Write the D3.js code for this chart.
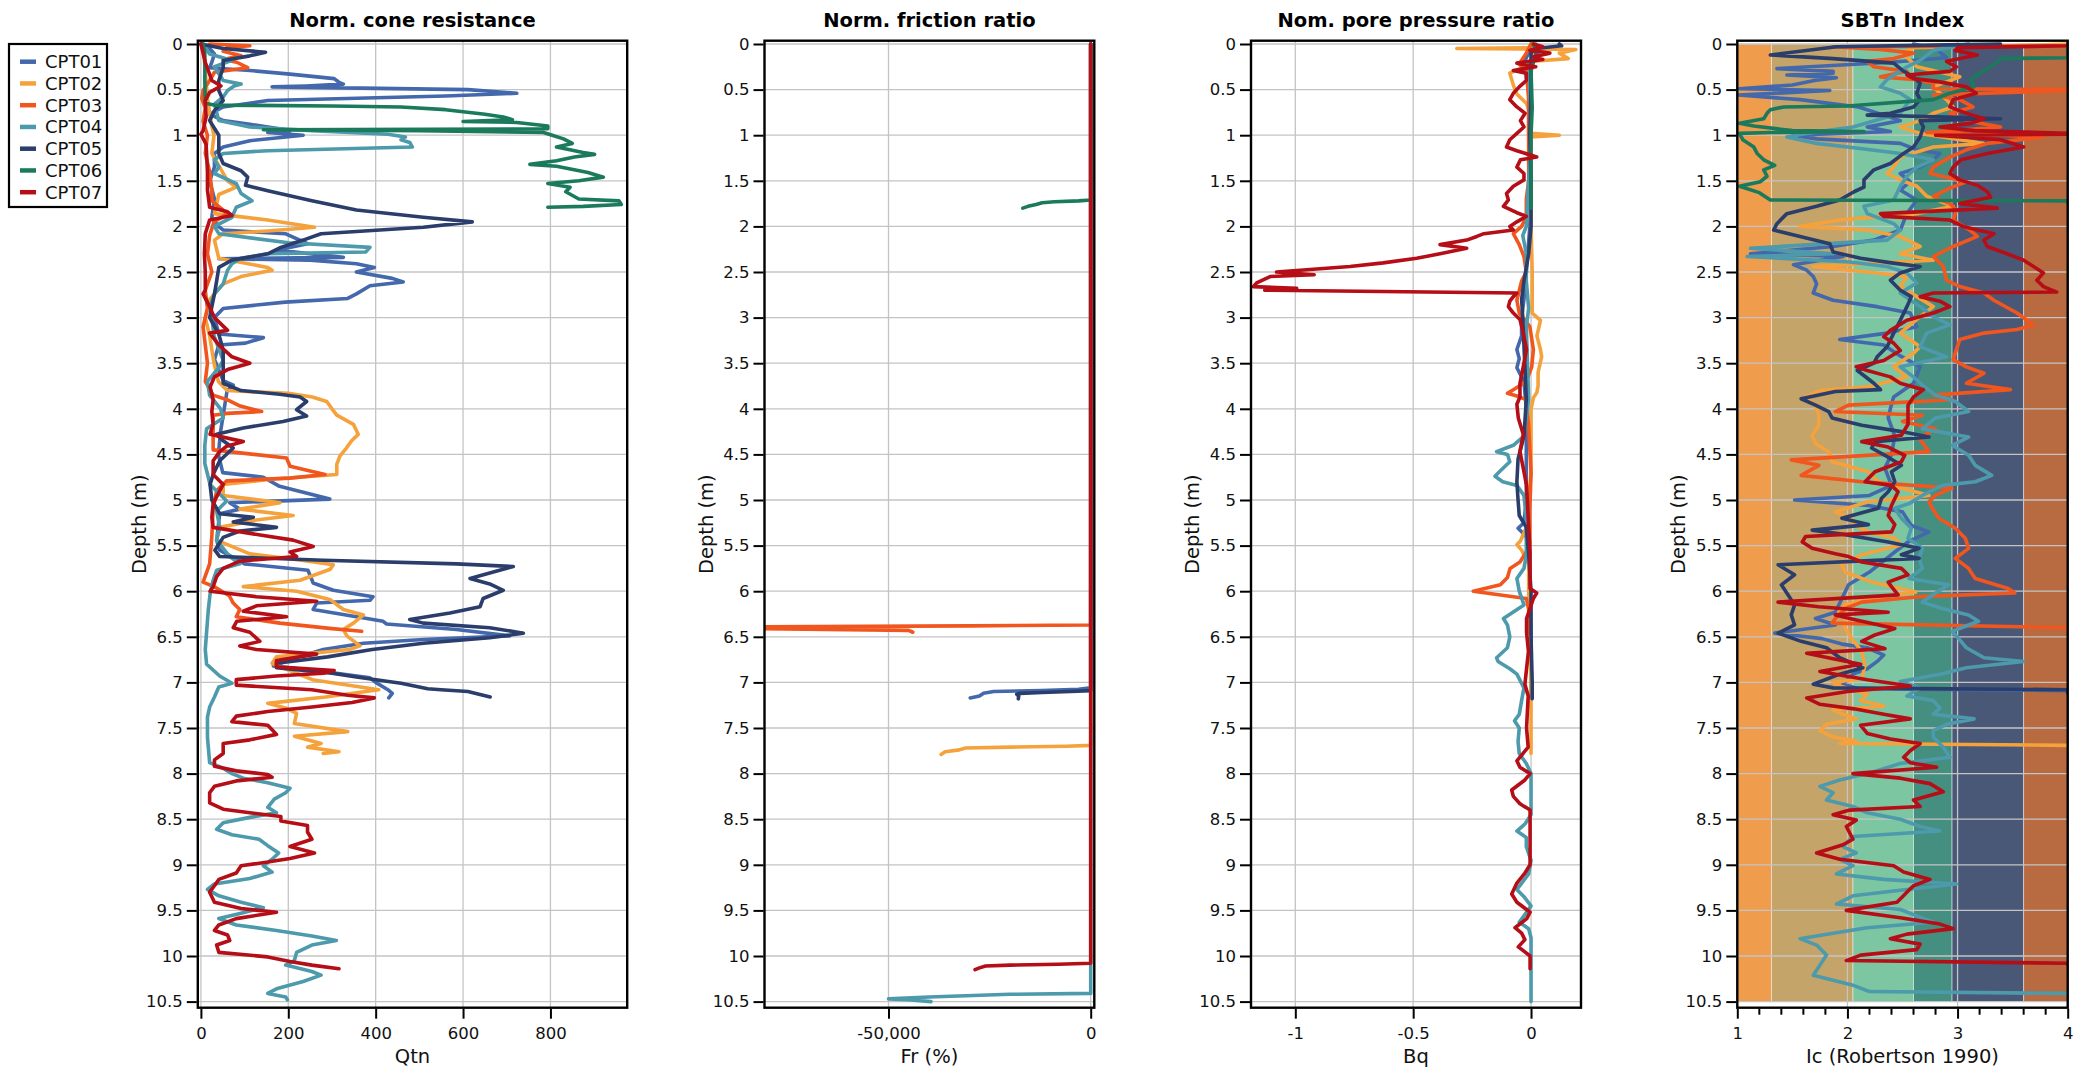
<!DOCTYPE html>
<html>
<head>
<meta charset="utf-8">
<script src="https://cdn.jsdelivr.net/npm/d3@7"></script>
<style>
  body { margin: 0; background: #fff; }
  svg { display: block; font-family: "DejaVu Sans", Verdana, sans-serif; }
</style>
</head>
<body>
<svg id="chart" width="2089" height="1073"></svg>
<script>
// ---- soundings ----
const soundings = ["CPT01", "CPT02", "CPT03", "CPT04", "CPT05", "CPT06", "CPT07"];
const colors = ["#4468ac", "#f5a23c", "#f0561e", "#4c9aac", "#2a3d6b", "#1b7a5c", "#b50e17"];

// ---- depth tick labels ----
const depthTicks = d3.range(0, 10.51, 0.5);

// ---- normalised cone resistance Qtn: [depth m, Qtn] ----
const qtn01 = [[0,0],[0.05,20],[0.11,31],[0.2,25],[0.26,20],[0.29,112],[0.33,204],[0.38,305],[0.42,316],[0.44,326],[0.46,240],[0.47,163],[0.5,611],[0.54,723],[0.57,560],[0.62,153],[0.69,51],[0.77,20],[0.84,51],[0.88,112],[0.95,204],[0.97,153],[1.0,234],[1.06,112],[1.13,51],[1.2,31],[1.35,31],[1.5,20],[1.7,31],[1.9,25],[2.0,40],[2.04,51],[2.08,193],[2.19,244],[2.26,173],[2.34,326],[2.355,41],[2.37,250],[2.41,356],[2.45,397],[2.5,356],[2.57,438],[2.61,463],[2.65,387],[2.74,356],[2.79,336],[2.83,193],[2.9,51],[3.0,31],[3.18,41],[3.22,143],[3.28,102],[3.3,41],[3.46,31],[3.69,51],[3.74,74],[3.8,60],[4.1,50],[4.25,45],[4.5,40],[4.7,50],[4.75,143],[4.85,180],[4.99,295],[5.03,66],[5.1,89],[5.15,43],[5.44,36],[5.55,43],[5.7,100],[5.77,245],[5.91,257],[5.99,303],[6.06,394],[6.1,387],[6.13,265],[6.2,257],[6.28,356],[6.33,417],[6.36,425],[6.42,585],[6.49,707],[6.53,509],[6.57,372],[6.64,280],[6.75,204],[6.82,166],[6.88,280],[6.95,387],[7.0,400],[7.08,428],[7.12,438],[7.17,430]];
const qtn02 = [[0,5],[0.3,10],[0.6,15],[0.9,25],[1.0,30],[1.2,25],[1.5,61],[1.57,81],[1.65,41],[1.86,31],[1.93,153],[2.01,260],[2.05,153],[2.08,51],[2.15,31],[2.35,41],[2.45,153],[2.48,163],[2.55,92],[2.63,51],[2.8,20],[3.0,10],[3.2,20],[3.5,30],[3.7,40],[3.8,60],[3.83,200],[3.87,255],[3.92,288],[4.0,300],[4.07,311],[4.17,349],[4.28,360],[4.35,345],[4.43,333],[4.52,318],[4.61,311],[4.72,311],[4.77,166],[4.83,51],[4.95,51],[5.03,181],[5.1,89],[5.17,211],[5.22,127],[5.3,43],[5.44,36],[5.59,112],[5.66,230],[5.71,303],[5.76,296],[5.88,227],[5.95,97],[6.0,219],[6.09,295],[6.2,326],[6.26,372],[6.35,349],[6.42,326],[6.49,334],[6.6,364],[6.64,340],[6.72,173],[6.79,163],[6.9,219],[6.97,255],[7.08,407],[7.16,285],[7.23,153],[7.28,194],[7.34,219],[7.45,214],[7.54,336],[7.59,214],[7.67,275],[7.71,244],[7.76,316],[7.78,280]];
const qtn03 = [[0,20],[0.02,112],[0.04,60],[0.08,51],[0.13,92],[0.17,51],[0.2,82],[0.26,107],[0.31,31],[0.4,20],[0.51,5],[0.6,2],[0.7,10],[0.85,5],[1.0,15],[1.2,10],[1.4,20],[1.6,25],[1.72,25],[1.86,61],[1.95,30],[2.1,20],[2.3,15],[2.5,25],[2.7,10],[2.9,15],[3.1,5],[3.3,10],[3.5,15],[3.7,10],[3.85,28],[3.9,60],[3.97,90],[4.03,139],[4.05,60],[4.07,28],[4.2,28],[4.45,28],[4.54,196],[4.63,204],[4.72,284],[4.76,204],[4.79,59],[4.9,36],[5.1,28],[5.4,25],[5.7,20],[5.9,5],[5.95,30],[6.05,65],[6.13,74],[6.2,89],[6.28,81],[6.35,181],[6.41,300],[6.44,368]];
const qtn04 = [[0,5],[0.11,20],[0.15,50],[0.18,71],[0.25,31],[0.4,51],[0.44,92],[0.46,76],[0.51,61],[0.58,51],[0.66,31],[0.84,41],[0.91,112],[0.95,254],[0.99,428],[1.02,468],[1.05,458],[1.08,478],[1.13,484],[1.17,153],[1.2,51],[1.27,31],[1.35,41],[1.42,31],[1.53,81],[1.64,92],[1.72,117],[1.79,81],[1.9,71],[2.0,31],[2.08,41],[2.18,200],[2.23,387],[2.28,377],[2.3,153],[2.35,92],[2.41,71],[2.48,61],[2.63,51],[2.74,31],[2.88,20],[3.0,25],[3.2,30],[3.47,51],[3.55,41],[3.7,15],[3.85,20],[4.0,45],[4.1,51],[4.22,13],[4.4,9],[4.6,9],[4.83,21],[5.01,59],[5.12,36],[5.3,43],[5.44,36],[5.62,66],[5.7,89],[5.77,36],[5.88,28],[6.03,21],[6.2,17],[6.45,13],[6.64,10],[6.8,13],[6.93,43],[7.01,71],[7.05,41],[7.16,31],[7.27,20],[7.38,15],[7.6,15],[7.88,20],[7.94,51],[8.0,71],[8.05,97],[8.1,153],[8.16,204],[8.21,194],[8.28,168],[8.37,153],[8.43,173],[8.48,112],[8.54,51],[8.61,36],[8.67,71],[8.72,133],[8.79,153],[8.87,178],[8.94,163],[9.01,143],[9.08,163],[9.15,112],[9.21,31],[9.27,15],[9.34,41],[9.41,92],[9.47,143],[9.53,92],[9.59,41],[9.66,81],[9.72,173],[9.78,254],[9.83,310],[9.88,254],[9.96,219],[10.05,214],[10.1,194],[10.17,254],[10.21,275],[10.28,234],[10.36,173],[10.41,153],[10.45,194],[10.48,198]];
const qtn05 = [[0,0],[0.05,51],[0.09,148],[0.13,112],[0.18,51],[0.26,51],[0.4,41],[0.51,41],[0.62,51],[0.73,31],[0.84,20],[1.0,41],[1.2,41],[1.31,51],[1.39,92],[1.46,107],[1.55,102],[1.61,153],[1.72,254],[1.82,356],[1.9,509],[1.95,621],[2.01,509],[2.08,275],[2.15,234],[2.23,183],[2.3,153],[2.37,71],[2.45,41],[2.6,36],[2.74,31],[3.0,20],[3.18,41],[3.36,51],[3.55,51],[3.72,51],[3.8,92],[3.84,180],[3.87,227],[3.92,242],[4.01,219],[4.08,242],[4.14,188],[4.21,97],[4.28,36],[4.35,51],[4.43,74],[4.57,43],[4.72,28],[4.83,21],[5.0,25],[5.15,43],[5.19,120],[5.24,74],[5.3,173],[5.34,89],[5.41,51],[5.55,32],[5.62,43],[5.66,280],[5.7,585],[5.73,715],[5.8,661],[5.86,616],[5.92,661],[5.99,692],[6.08,646],[6.17,639],[6.24,570],[6.31,478],[6.35,509],[6.4,661],[6.46,738],[6.51,661],[6.57,509],[6.64,392],[6.72,290],[6.79,173],[6.84,173],[6.9,300],[6.94,356],[7.01,458],[7.07,519],[7.08,550],[7.1,611],[7.16,662]];
const qtn06 = [[0,5],[0.1,9],[0.4,9],[0.65,10],[0.67,30],[0.68,300],[0.69,458],[0.72,560],[0.77,650],[0.8,692],[0.83,713],[0.85,600],[0.86,723],[0.9,794],[0.93,794],[0.94,143],[0.95,500],[0.97,784],[1.0,804],[1.04,830],[1.09,850],[1.13,814],[1.19,875],[1.21,901],[1.24,855],[1.28,814],[1.32,753],[1.34,814],[1.41,886],[1.46,921],[1.5,865],[1.53,794],[1.57,845],[1.62,835],[1.7,865],[1.72,957],[1.76,962],[1.78,875],[1.79,794]];
const qtn07 = [[0,0],[0.2,10],[0.4,25],[0.46,46],[0.53,20],[0.62,10],[0.8,12],[0.95,5],[0.99,0],[1.1,12],[1.4,15],[1.6,15],[1.79,20],[1.84,61],[1.88,71],[1.93,20],[2.08,10],[2.3,8],[2.5,10],[2.7,10],[2.74,5],[2.88,20],[3.0,31],[3.14,61],[3.17,20],[3.3,41],[3.43,71],[3.5,112],[3.57,61],[3.65,31],[3.76,21],[3.9,28],[4.03,25],[4.17,28],[4.28,21],[4.36,97],[4.41,59],[4.47,43],[4.57,28],[4.72,28],[4.83,51],[4.9,43],[5.04,28],[5.19,25],[5.3,28],[5.39,143],[5.44,211],[5.51,257],[5.57,204],[5.62,219],[5.67,89],[5.75,51],[5.84,36],[5.95,28],[6.0,21],[6.06,127],[6.11,265],[6.16,127],[6.22,97],[6.28,196],[6.33,82],[6.4,74],[6.45,112],[6.55,135],[6.6,89],[6.64,127],[6.69,265],[6.76,173],[6.83,173],[6.87,305],[6.9,280],[6.93,173],[6.97,81],[7.03,81],[7.08,254],[7.14,336],[7.17,397],[7.22,346],[7.27,254],[7.32,153],[7.37,81],[7.43,71],[7.47,153],[7.52,163],[7.57,173],[7.63,112],[7.67,51],[7.78,51],[7.85,31],[7.92,31],[7.97,81],[8.01,153],[8.04,163],[8.08,81],[8.14,31],[8.21,20],[8.32,20],[8.39,51],[8.43,112],[8.47,183],[8.52,183],[8.57,244],[8.64,244],[8.72,254],[8.8,204],[8.87,260],[8.93,204],[8.97,153],[9.01,92],[9.09,81],[9.16,41],[9.23,31],[9.3,20],[9.41,31],[9.48,92],[9.52,173],[9.59,81],[9.66,41],[9.72,31],[9.77,61],[9.83,66],[9.88,36],[9.96,41],[10.01,153],[10.06,204],[10.1,254],[10.14,316]];

// ---- normalised friction ratio Fr (%): [depth m, Fr] ----
const fr01 = [[0,1.5],[2,2.5],[5,2],[7.06,3],[7.075,-3000],[7.09,-12000],[7.1,-24000],[7.12,-26500],[7.15,-27500],[7.17,-29800]];
const fr02 = [[0,2],[3,2],[7.69,3],[7.7,-6000],[7.71,-20000],[7.72,-31000],[7.74,-32500],[7.76,-36000],[7.79,-37000]];
const fr03 = [[0,1],[3,2],[6.37,3],[6.38,-30000],[6.39,-82000],[6.41,-82000],[6.43,-45000],[6.45,-44000]];
const fr04 = [[0,1],[5,2],[10.41,3],[10.42,-20000],[10.45,-40000],[10.47,-50000],[10.48,-45000],[10.5,-39500]];
const fr05 = [[0,1],[7.09,3],[7.1,-5000],[7.11,-12000],[7.12,-17500],[7.13,-18300],[7.15,-17800],[7.18,-17900]];
const fr06 = [[0,1],[1.71,3],[1.72,-3000],[1.73,-9000],[1.74,-12000],[1.76,-13500],[1.78,-15500],[1.8,-16800]];
const fr07 = [[0,1],[5,3],[10.08,3],[10.09,-8000],[10.1,-20000],[10.11,-26000],[10.13,-27500],[10.15,-28600]];

// ---- normalised pore pressure ratio Bq: [depth m, Bq] ----
const bq01 = [[0,0],[0.1,-0.01],[0.2,-0.03],[0.5,-0.01],[1,-0.01],[1.5,0],[2,-0.005],[2.5,-0.02],[2.8,-0.03],[3.0,-0.04],[3.2,-0.04],[3.35,-0.06],[3.45,-0.05],[3.55,-0.06],[3.7,-0.03],[4,-0.02],[4.5,-0.02],[5,-0.02],[5.25,-0.03],[5.31,-0.055],[5.4,-0.02],[5.6,-0.01],[6,-0.005],[6.5,0],[7,0],[7.17,0]];
const bq02 = [[0,0],[0.04,-0.01],[0.05,-0.315],[0.055,0],[0.06,0.19],[0.1,0.12],[0.16,0.158],[0.19,0.01],[0.25,-0.03],[0.32,-0.09],[0.45,-0.075],[0.55,-0.06],[0.65,-0.02],[0.78,0],[0.9,-0.005],[0.98,0],[1.0,0.12],[1.02,0],[1.5,0],[2,0],[2.5,0.005],[2.95,0.005],[3.03,0.04],[3.2,0.025],[3.35,0.04],[3.43,0.045],[3.6,0.03],[3.75,0.03],[3.82,0.025],[3.88,0.01],[4.0,0],[4.3,0],[4.7,0],[5.3,-0.02],[5.45,-0.045],[5.49,-0.06],[5.55,-0.04],[5.7,-0.01],[6.1,-0.01],[6.5,-0.005],[7,0],[7.78,0]];
const bq03 = [[0,0],[0.1,-0.02],[0.22,-0.05],[0.3,-0.02],[0.6,-0.01],[1,-0.01],[1.5,-0.01],[1.7,-0.02],[1.9,-0.02],[2.0,-0.04],[2.08,-0.075],[2.2,-0.05],[2.33,-0.03],[2.5,-0.02],[2.6,-0.04],[2.81,-0.06],[2.95,-0.05],[3.1,-0.005],[3.35,0.01],[3.54,0.003],[3.7,-0.02],[3.79,-0.075],[3.83,-0.1],[3.86,-0.06],[3.9,-0.02],[4.2,-0.01],[4.7,0],[5.1,-0.005],[5.5,-0.005],[5.57,-0.02],[5.68,-0.047],[5.75,-0.089],[5.85,-0.1],[5.93,-0.13],[6.0,-0.245],[6.03,-0.16],[6.08,-0.02],[6.2,-0.01],[6.46,-0.005]];
const bq04 = [[0,0.02],[0.1,0.03],[0.2,-0.01],[0.5,-0.005],[1,0],[1.5,-0.01],[2,-0.02],[2.1,-0.035],[2.3,-0.02],[2.6,-0.02],[2.9,-0.01],[3.1,-0.02],[3.5,-0.015],[3.9,-0.01],[4.1,-0.02],[4.3,-0.03],[4.4,-0.075],[4.47,-0.146],[4.5,-0.1],[4.58,-0.09],[4.68,-0.13],[4.74,-0.153],[4.8,-0.12],[4.84,-0.06],[4.95,-0.03],[5.2,-0.02],[5.6,-0.02],[5.75,-0.03],[5.86,-0.06],[6.0,-0.05],[6.15,-0.03],[6.3,-0.117],[6.37,-0.1],[6.5,-0.09],[6.62,-0.1],[6.73,-0.146],[6.77,-0.14],[6.85,-0.09],[6.91,-0.06],[7.06,-0.03],[7.2,-0.04],[7.35,-0.05],[7.42,-0.07],[7.5,-0.05],[7.65,-0.055],[7.78,-0.05],[7.89,-0.02],[8.0,0],[8.45,0],[8.55,-0.025],[8.63,-0.06],[8.7,-0.02],[8.8,-0.02],[8.95,0],[9.1,-0.01],[9.27,-0.06],[9.35,-0.03],[9.45,0],[9.56,-0.03],[9.63,-0.05],[9.7,-0.01],[9.8,0],[10.46,0],[10.5,0]];
const bq05 = [[0,0.12],[0.02,0.13],[0.05,0.02],[0.1,0],[0.5,0],[1,-0.005],[1.5,0],[2,0],[2.3,-0.01],[2.6,-0.03],[2.8,-0.04],[3,-0.035],[3.3,-0.03],[3.6,-0.025],[3.9,-0.02],[4.3,-0.03],[4.55,-0.055],[4.8,-0.06],[5.0,-0.055],[5.17,-0.05],[5.3,-0.02],[5.6,-0.01],[6,0],[6.5,0],[7,0.005],[7.18,0.005]];
const bq06 = [[0,0.01],[0.1,0.02],[0.2,0.01],[0.3,0],[0.7,0.005],[1.0,0],[1.5,0],[1.8,0]];
const bq07 = [[0,0.01],[0.03,0.05],[0.07,-0.005],[0.1,0.08],[0.14,0.01],[0.17,0.05],[0.21,-0.06],[0.25,0.02],[0.29,-0.075],[0.32,-0.02],[0.4,-0.02],[0.47,-0.05],[0.54,-0.075],[0.61,-0.09],[0.69,-0.06],[0.76,-0.025],[0.84,-0.045],[0.91,-0.03],[0.98,-0.06],[1.05,-0.09],[1.13,-0.104],[1.17,-0.06],[1.24,0.024],[1.27,-0.045],[1.35,-0.06],[1.42,-0.03],[1.49,-0.03],[1.56,-0.075],[1.64,-0.104],[1.71,-0.096],[1.78,-0.117],[1.85,-0.06],[1.89,-0.02],[1.95,-0.06],[2.0,-0.09],[2.04,-0.075],[2.08,-0.2],[2.11,-0.23],[2.15,-0.273],[2.2,-0.386],[2.24,-0.273],[2.3,-0.386],[2.35,-0.485],[2.4,-0.627],[2.44,-0.768],[2.48,-0.98],[2.5,-1.08],[2.53,-0.92],[2.55,-1.107],[2.62,-1.164],[2.66,-1.178],[2.68,-0.994],[2.7,-1.13],[2.73,-0.06],[2.77,-0.075],[2.82,-0.09],[2.88,-0.096],[2.95,-0.075],[3.02,-0.047],[3.17,-0.033],[3.35,-0.019],[3.54,-0.033],[3.72,-0.047],[3.87,-0.047],[3.95,-0.06],[4.1,-0.054],[4.28,-0.033],[4.47,-0.047],[4.65,-0.033],[4.84,-0.019],[5.2,-0.012],[5.57,-0.004],[5.97,-0.004],[6.02,0.024],[6.08,0.01],[6.3,-0.019],[6.45,-0.019],[6.66,-0.011],[7.02,-0.026],[7.15,-0.012],[7.5,-0.019],[7.71,-0.012],[7.86,-0.06],[7.93,-0.047],[8.0,-0.004],[8.07,-0.026],[8.18,-0.082],[8.25,-0.075],[8.33,-0.047],[8.4,-0.004],[9.0,-0.004],[9.09,-0.026],[9.2,-0.06],[9.32,-0.082],[9.41,-0.06],[9.52,-0.004],[9.59,-0.018],[9.69,-0.068],[9.75,-0.04],[9.82,-0.026],[9.9,-0.054],[10.0,-0.004],[10.14,-0.004]];

// ---- SBTn index Ic (Robertson 1990): [depth m, Ic] ----
const ic01 = [[0,2.6],[0.05,2.8],[0.1,2.85],[0.15,2.9],[0.2,2.4],[0.27,1.36],[0.3,1.87],[0.32,1.87],[0.34,1.45],[0.37,1.9],[0.4,1.7],[0.45,1.5],[0.49,1.02],[0.51,1.84],[0.56,1.01],[0.61,1.57],[0.69,2.1],[0.78,2.33],[0.84,2.48],[0.91,2.18],[0.96,2.39],[1.0,1.51],[1.04,1.72],[1.09,2.48],[1.16,2.63],[1.2,2.84],[1.27,2.78],[1.35,2.66],[1.42,2.48],[1.51,2.57],[1.6,2.48],[1.71,2.63],[1.86,2.54],[2.04,2.48],[2.15,2.24],[2.22,1.87],[2.3,1.12],[2.33,1.96],[2.42,1.51],[2.48,1.63],[2.55,1.69],[2.63,1.72],[2.73,1.69],[2.81,1.87],[2.88,2.27],[2.95,2.57],[3.1,2.63],[3.17,2.36],[3.24,1.93],[3.3,2.33],[3.42,2.48],[3.54,2.66],[3.72,2.6],[3.87,2.42],[3.95,2.4],[4.1,2.37],[4.3,2.43],[4.5,2.4],[4.65,2.34],[4.84,2.4],[4.95,2.2],[5.0,1.52],[5.06,2.19],[5.13,2.5],[5.28,2.58],[5.35,2.74],[5.46,2.55],[5.57,2.43],[5.79,2.2],[5.93,2.01],[6.08,1.95],[6.23,1.89],[6.3,1.71],[6.37,1.89],[6.46,1.34],[6.52,1.77],[6.58,1.95],[6.62,2.18],[6.7,2.33],[6.77,2.27],[6.85,2.18],[6.91,2.05],[7.02,1.96],[7.07,2.1],[7.09,4.0],[7.12,4.0]];
const ic02 = [[0,4.0],[0.02,3.5],[0.04,2.6],[0.1,2.5],[0.25,2.63],[0.36,3.02],[0.47,2.78],[0.61,2.9],[0.69,2.96],[0.76,2.78],[0.84,2.66],[0.91,2.48],[0.98,2.66],[1.09,3.24],[1.13,2.78],[1.24,2.48],[1.35,2.42],[1.42,2.36],[1.49,2.48],[1.56,2.63],[1.67,2.72],[1.78,2.96],[1.86,2.63],[1.93,1.93],[2.0,1.57],[2.04,2.18],[2.11,2.48],[2.22,2.66],[2.3,2.48],[2.37,2.78],[2.44,1.69],[2.5,2.18],[2.55,2.54],[2.66,2.48],[2.77,2.63],[2.88,2.78],[2.99,2.66],[3.17,2.48],[3.32,2.66],[3.39,2.6],[3.54,2.42],[3.65,2.54],[3.76,2.18],[3.8,1.75],[3.87,1.62],[3.96,1.71],[4.07,1.74],[4.18,1.74],[4.29,1.68],[4.38,1.71],[4.47,1.83],[4.58,1.86],[4.69,2.19],[4.8,2.28],[4.95,2.74],[5.02,2.19],[5.13,1.89],[5.2,2.04],[5.28,2.07],[5.35,2.19],[5.42,2.43],[5.49,2.49],[5.6,2.13],[5.71,1.95],[5.79,1.98],[5.9,2.22],[6.01,2.62],[6.08,2.19],[6.15,1.98],[6.23,1.92],[6.3,1.98],[6.41,1.98],[6.52,2.04],[6.66,2.13],[6.81,2.16],[6.96,2.13],[7.0,1.87],[7.04,1.93],[7.13,2.18],[7.2,2.12],[7.26,2.33],[7.3,1.87],[7.35,1.96],[7.4,2.08],[7.46,1.81],[7.53,1.75],[7.6,1.87],[7.64,2.08],[7.67,1.93],[7.69,4.0],[7.7,4.0]];
const ic03 = [[0,4.0],[0.02,4.0],[0.03,1.87],[0.06,2.3],[0.1,2.6],[0.16,2.42],[0.19,2.18],[0.25,2.24],[0.3,2.54],[0.36,2.3],[0.39,2.6],[0.43,2.78],[0.49,2.78],[0.5,4.0],[0.51,4.0],[0.56,2.78],[0.61,3.02],[0.69,3.14],[0.76,2.93],[0.84,3.08],[0.91,3.39],[0.97,2.72],[1.02,3.78],[1.09,3.27],[1.16,3.08],[1.24,2.93],[1.35,2.78],[1.42,2.75],[1.51,3.08],[1.58,2.93],[1.67,2.78],[1.75,2.93],[1.82,2.99],[1.93,2.96],[2.04,3.11],[2.11,3.18],[2.22,2.96],[2.33,2.78],[2.44,2.87],[2.59,2.9],[2.66,3.02],[2.73,3.24],[2.81,3.33],[2.95,3.54],[3.08,3.69],[3.13,3.54],[3.17,3.24],[3.24,3.02],[3.35,2.99],[3.46,2.96],[3.54,3.08],[3.61,3.24],[3.72,3.08],[3.79,3.48],[3.85,2.78],[3.9,2.95],[3.96,2.01],[4.03,1.89],[4.07,2.68],[4.14,2.5],[4.22,2.8],[4.32,2.65],[4.47,2.74],[4.56,1.49],[4.62,1.74],[4.73,1.58],[4.8,2.13],[4.87,2.95],[4.95,2.8],[5.02,2.74],[5.09,2.77],[5.2,2.83],[5.31,2.98],[5.42,3.07],[5.53,3.1],[5.64,2.98],[5.75,3.1],[5.86,3.16],[5.97,3.46],[6.02,3.52],[6.06,2.65],[6.12,2.13],[6.19,1.98],[6.3,1.89],[6.35,1.86],[6.4,4.0],[6.41,4.0]];
const ic04 = [[0,3.1],[0.07,2.78],[0.18,2.66],[0.25,2.54],[0.39,2.36],[0.47,2.3],[0.54,2.48],[0.61,2.57],[0.76,2.48],[0.91,2.05],[0.98,1.63],[1.02,1.45],[1.09,1.72],[1.14,2.08],[1.2,2.48],[1.27,2.78],[1.35,2.63],[1.45,2.54],[1.56,2.48],[1.71,2.42],[1.78,2.15],[1.86,2.18],[1.97,2.42],[2.04,2.48],[2.15,2.36],[2.24,1.12],[2.3,1.87],[2.33,1.09],[2.39,2.02],[2.44,2.36],[2.51,2.54],[2.62,2.63],[2.73,2.48],[2.88,2.66],[2.99,2.78],[3.08,2.93],[3.17,2.72],[3.32,2.66],[3.43,2.9],[3.54,2.48],[3.65,2.6],[3.74,2.68],[3.85,2.8],[3.92,2.98],[4.03,3.1],[4.1,2.8],[4.22,2.68],[4.31,3.1],[4.4,2.95],[4.51,3.1],[4.62,3.16],[4.73,3.31],[4.8,3.16],[4.84,2.86],[4.95,2.68],[5.04,2.56],[5.09,2.43],[5.2,2.49],[5.31,2.58],[5.42,2.55],[5.53,2.68],[5.64,2.65],[5.75,2.68],[5.86,2.56],[5.93,2.92],[6.02,2.8],[6.12,2.68],[6.19,2.86],[6.26,3.1],[6.33,3.19],[6.44,2.95],[6.52,3.01],[6.62,3.08],[6.73,3.24],[6.77,3.6],[6.84,3.08],[6.91,2.84],[6.99,2.48],[7.06,2.66],[7.15,2.54],[7.2,2.78],[7.28,2.84],[7.35,2.78],[7.4,3.15],[7.46,2.9],[7.53,2.78],[7.6,2.78],[7.71,2.87],[7.82,2.93],[7.89,2.48],[8.0,2.18],[8.07,1.93],[8.14,1.75],[8.21,1.87],[8.29,1.81],[8.36,2.05],[8.43,2.18],[8.5,2.48],[8.58,2.66],[8.63,2.84],[8.69,2.05],[8.8,1.96],[8.87,2.08],[8.94,1.93],[9.01,2.05],[9.1,1.9],[9.16,2.33],[9.21,2.99],[9.28,2.48],[9.34,2.05],[9.43,1.9],[9.49,2.48],[9.56,2.63],[9.63,2.78],[9.69,2.18],[9.75,1.87],[9.81,1.57],[9.88,1.72],[9.99,1.81],[10.1,1.75],[10.21,1.69],[10.32,2.05],[10.39,2.2],[10.41,4.0],[10.45,4.0]];
const ic05 = [[0,3.39],[0.01,2.9],[0.03,1.9],[0.12,1.3],[0.16,1.87],[0.21,2.42],[0.29,2.5],[0.36,2.6],[0.43,2.66],[0.54,2.63],[0.61,2.66],[0.69,2.6],[0.76,2.39],[0.78,2.18],[0.8,2.9],[0.82,3.39],[0.84,2.66],[0.91,2.69],[1.02,2.66],[1.13,2.6],[1.2,2.51],[1.31,2.39],[1.38,2.24],[1.49,2.15],[1.57,2.15],[1.62,2.06],[1.71,1.93],[1.78,1.72],[1.86,1.45],[1.97,1.36],[2.04,1.33],[2.11,1.57],[2.19,1.84],[2.28,1.87],[2.35,2.12],[2.4,2.4],[2.44,2.66],[2.51,2.48],[2.59,2.39],[2.7,2.48],[2.77,2.58],[2.88,2.54],[3.03,2.48],[3.17,2.42],[3.32,2.36],[3.43,2.27],[3.5,2.24],[3.58,2.09],[3.72,2.24],[3.79,2.3],[3.81,1.89],[3.89,1.58],[3.96,1.71],[4.03,1.83],[4.1,1.86],[4.18,2.13],[4.25,2.49],[4.31,2.74],[4.36,2.25],[4.43,2.22],[4.51,2.34],[4.62,2.49],[4.69,2.4],[4.8,2.43],[4.91,2.37],[4.98,2.31],[5.09,2.28],[5.2,1.95],[5.27,2.19],[5.33,1.68],[5.38,1.98],[5.46,2.37],[5.53,2.65],[5.6,2.49],[5.64,2.65],[5.71,1.37],[5.82,1.52],[5.93,1.4],[6.04,1.46],[6.15,1.52],[6.26,1.49],[6.37,1.52],[6.46,1.37],[6.55,1.58],[6.62,1.81],[6.73,1.93],[6.84,2.14],[6.91,1.93],[7.02,1.69],[7.06,1.87],[7.08,4.0],[7.12,4.0]];
const ic06 = [[0,4.0],[0.15,4.0],[0.16,3.4],[0.25,3.3],[0.32,3.2],[0.39,3.12],[0.47,3.15],[0.54,2.93],[0.61,2.78],[0.68,2.0],[0.69,1.42],[0.72,1.3],[0.76,1.27],[0.82,1.24],[0.87,1.02],[0.9,1.15],[0.95,1.5],[0.96,2.15],[0.97,1.3],[0.98,1.02],[1.05,1.05],[1.13,1.15],[1.2,1.18],[1.27,1.24],[1.33,1.34],[1.38,1.24],[1.45,1.27],[1.51,1.21],[1.56,1.02],[1.63,1.2],[1.71,1.3],[1.72,4.0],[1.74,4.0]];
const ic07 = [[0,4.0],[0.02,4.0],[0.04,3.0],[0.07,2.98],[0.12,3.18],[0.19,2.9],[0.25,2.99],[0.3,2.93],[0.34,2.54],[0.38,2.6],[0.41,2.81],[0.47,3.08],[0.54,3.17],[0.61,2.96],[0.69,2.93],[0.76,3.08],[0.82,3.24],[0.87,3.12],[0.91,2.84],[0.95,3.15],[0.98,4.0],[0.99,4.0],[1.0,2.8],[1.05,3.39],[1.13,3.6],[1.2,3.27],[1.27,3.03],[1.35,2.96],[1.42,2.93],[1.49,3.02],[1.55,3.18],[1.62,3.27],[1.68,3.3],[1.75,3.02],[1.8,3.36],[1.86,2.3],[1.89,2.33],[1.93,2.93],[2.0,3.05],[2.08,3.33],[2.15,3.24],[2.22,3.27],[2.3,3.45],[2.37,3.6],[2.44,3.69],[2.51,3.78],[2.59,3.72],[2.66,3.78],[2.72,3.9],[2.73,2.78],[2.77,2.66],[2.82,2.84],[2.88,2.93],[2.95,2.78],[3.03,2.54],[3.14,2.39],[3.21,2.33],[3.28,2.42],[3.36,2.48],[3.47,2.33],[3.54,2.08],[3.58,2.18],[3.65,2.39],[3.72,2.48],[3.79,2.69],[3.87,2.6],[3.96,2.55],[4.03,2.55],[4.17,2.55],[4.29,2.49],[4.36,2.13],[4.42,2.37],[4.51,2.52],[4.58,2.49],[4.69,2.25],[4.8,2.16],[4.84,2.4],[4.91,2.46],[5.06,2.4],[5.17,2.37],[5.27,2.43],[5.35,2.4],[5.4,1.62],[5.46,1.59],[5.53,1.68],[5.59,1.89],[5.62,2.01],[5.68,2.13],[5.75,2.49],[5.82,2.55],[5.9,2.37],[5.95,2.4],[6.04,2.46],[6.12,1.37],[6.17,1.74],[6.23,2.37],[6.26,1.89],[6.32,2.1],[6.41,2.43],[6.48,2.25],[6.55,2.13],[6.63,2.34],[6.68,1.63],[6.74,1.87],[6.8,2.12],[6.88,1.75],[6.97,2.18],[7.04,2.57],[7.1,2.0],[7.17,1.63],[7.24,1.75],[7.29,2.06],[7.35,2.33],[7.4,2.57],[7.47,2.12],[7.56,2.18],[7.62,2.39],[7.67,2.66],[7.75,2.57],[7.82,2.51],[7.88,2.57],[7.93,2.81],[8.0,2.05],[8.05,2.48],[8.11,2.75],[8.2,2.87],[8.29,2.6],[8.36,2.66],[8.4,2.02],[8.45,1.87],[8.51,2.08],[8.58,1.99],[8.72,2.05],[8.78,1.96],[8.87,1.72],[8.94,1.93],[9.01,2.42],[9.08,2.51],[9.16,2.75],[9.23,2.6],[9.3,2.54],[9.41,2.45],[9.5,1.99],[9.58,2.48],[9.65,2.84],[9.7,2.96],[9.76,2.54],[9.81,2.39],[9.87,2.66],[9.93,2.63],[9.99,2.12],[10.05,1.99],[10.08,4.0],[10.1,4.0]];

// ---- SBTn zone boundaries and fills ----
const sbtBounds = [1, 1.31, 2.05, 2.60, 2.95, 3.60, 4];
const sbtFills = ["#ef9c4c", "#c4a468", "#7cc6a2", "#458f80", "#4a5878", "#b86a40"];

// ---- axis tick values ----
const qtnTicks = [0, 200, 400, 600, 800];
const frTicks = [-50000, 0];
const bqTicks = [-1, -0.5, 0];
const icTicks = [1, 2, 3, 4];
const icMinorTicks = d3.range(1, 4.001, 0.2);

// ---- layout ----
const plotTop = 40.7, plotBottom = 1007.7;
const y = d3.scaleLinear().domain([0, 10.5]).range([44, 1001.6]);
const minus = s => s.replace("\u2212", "-");

const panels = [
  { title: "Norm. cone resistance", xLabel: "Qtn", left: 197.8, right: 627.2,
    domain: [-7.1, 975.7], ticks: qtnTicks, fmt: d => String(d),
    series: [qtn01, qtn02, qtn03, qtn04, qtn05, qtn06, qtn07] },
  { title: "Norm. friction ratio", xLabel: "Fr (%)", left: 764.5, right: 1094.3,
    domain: [-80663, 890], ticks: frTicks, fmt: d => minus(d3.format(",")(d)),
    series: [fr01, fr02, fr03, fr04, fr05, fr06, fr07] },
  { title: "Nom. pore pressure ratio", xLabel: "Bq", left: 1251, right: 1581,
    domain: [-1.188, 0.212], ticks: bqTicks, fmt: d => String(d),
    series: [bq01, bq02, bq03, bq04, bq05, bq06, bq07] },
  { title: "SBTn Index", xLabel: "Ic (Robertson 1990)", left: 1737.3, right: 2067.7,
    domain: [1, 4], ticks: icTicks, fmt: d => String(d), sbt: true,
    series: [ic01, ic02, ic03, ic04, ic05, ic06, ic07] }
];

const svg = d3.select("#chart");

panels.forEach((p, pi) => {
  const x = d3.scaleLinear().domain(p.domain).range([p.left, p.right]);
  const g = svg.append("g");
  const clipId = "clip" + pi;
  svg.append("clipPath").attr("id", clipId)
    .append("rect").attr("x", p.left).attr("y", plotTop)
    .attr("width", p.right - p.left).attr("height", plotBottom - plotTop);

  // soil behaviour type zones
  if (p.sbt) {
    g.append("g").selectAll("rect").data(sbtFills).join("rect")
      .attr("x", (c, i) => x(sbtBounds[i]))
      .attr("width", (c, i) => x(sbtBounds[i + 1]) - x(sbtBounds[i]))
      .attr("y", y(0)).attr("height", y(10.5) - y(0))
      .attr("fill", c => c)
      .attr("stroke", "rgba(255,255,255,0.45)").attr("stroke-width", 1);
  }

  // grid
  const grid = g.append("g").attr("stroke", "#c4c4c4").attr("stroke-width", 1.3);
  grid.selectAll("line.h").data(depthTicks).join("line").attr("class", "h")
    .attr("x1", p.left).attr("x2", p.right)
    .attr("y1", d => y(d)).attr("y2", d => y(d));
  grid.selectAll("line.v").data(p.ticks).join("line").attr("class", "v")
    .attr("x1", d => x(d)).attr("x2", d => x(d))
    .attr("y1", plotTop).attr("y2", plotBottom);

  // profiles
  const line = d3.line().x(d => x(d[1])).y(d => y(d[0]));
  g.append("g").attr("clip-path", `url(#${clipId})`)
    .selectAll("path").data(p.series).join("path")
    .attr("d", line)
    .attr("fill", "none")
    .attr("stroke", (d, i) => colors[i])
    .attr("stroke-width", 3.6)
    .attr("stroke-linejoin", "round")
    .attr("stroke-linecap", "round");

  // frame
  g.append("rect").attr("x", p.left).attr("y", plotTop)
    .attr("width", p.right - p.left).attr("height", plotBottom - plotTop)
    .attr("fill", "none").attr("stroke", "#000").attr("stroke-width", 2.4);

  // depth axis
  const ya = g.append("g").attr("transform", `translate(${p.left - 1},0)`)
    .call(d3.axisLeft(y).tickValues(depthTicks).tickFormat(d => String(d))
      .tickSize(10).tickPadding(4));
  ya.select(".domain").remove();
  ya.selectAll("line").attr("stroke-width", 2);
  ya.selectAll("text").attr("font-size", 16.5).attr("fill", "#111")
    .attr("font-family", "DejaVu Sans, Verdana, sans-serif");

  // horizontal axis
  const xa = g.append("g").attr("transform", `translate(0,${plotBottom + 1})`)
    .call(d3.axisBottom(x).tickValues(p.ticks).tickFormat(p.fmt)
      .tickSize(10).tickPadding(9));
  xa.select(".domain").remove();
  xa.selectAll("line").attr("stroke-width", 2);
  xa.selectAll("text").attr("font-size", 16.5).attr("fill", "#111")
    .attr("font-family", "DejaVu Sans, Verdana, sans-serif");
  if (p.sbt) {
    g.append("g").selectAll("line").data(icMinorTicks.filter(v => Math.abs(v - Math.round(v)) > 1e-6))
      .join("line")
      .attr("x1", d => x(d)).attr("x2", d => x(d))
      .attr("y1", plotBottom + 1).attr("y2", plotBottom + 7)
      .attr("stroke", "#000").attr("stroke-width", 2);
  }

  // titles
  g.append("text").attr("x", (p.left + p.right) / 2).attr("y", 26.5)
    .attr("text-anchor", "middle").attr("font-size", 19.5).attr("font-weight", "bold")
    .attr("fill", "#000").text(p.title);
  g.append("text").attr("x", (p.left + p.right) / 2).attr("y", 1063)
    .attr("text-anchor", "middle").attr("font-size", 19.5)
    .attr("fill", "#111").text(p.xLabel);
  g.append("text")
    .attr("transform", `translate(${p.left - 52},${(plotTop + plotBottom) / 2}) rotate(-90)`)
    .attr("text-anchor", "middle").attr("font-size", 19.5)
    .attr("fill", "#111").text("Depth (m)");
});

// legend
const legend = svg.append("g");
legend.append("rect").attr("x", 9).attr("y", 44).attr("width", 98).attr("height", 163)
  .attr("fill", "#fff").attr("stroke", "#000").attr("stroke-width", 2.2);
const rows = legend.selectAll("g.row").data(soundings).join("g").attr("class", "row")
  .attr("transform", (d, i) => `translate(0,${61.7 + i * 21.75})`);
rows.append("line").attr("x1", 20).attr("x2", 36).attr("y1", 0).attr("y2", 0)
  .attr("stroke", (d, i) => colors[i]).attr("stroke-width", 4.5);
rows.append("text").attr("x", 45).attr("y", 6.5).attr("font-size", 18)
  .attr("fill", "#111").text(d => d);
</script>
</body>
</html>
